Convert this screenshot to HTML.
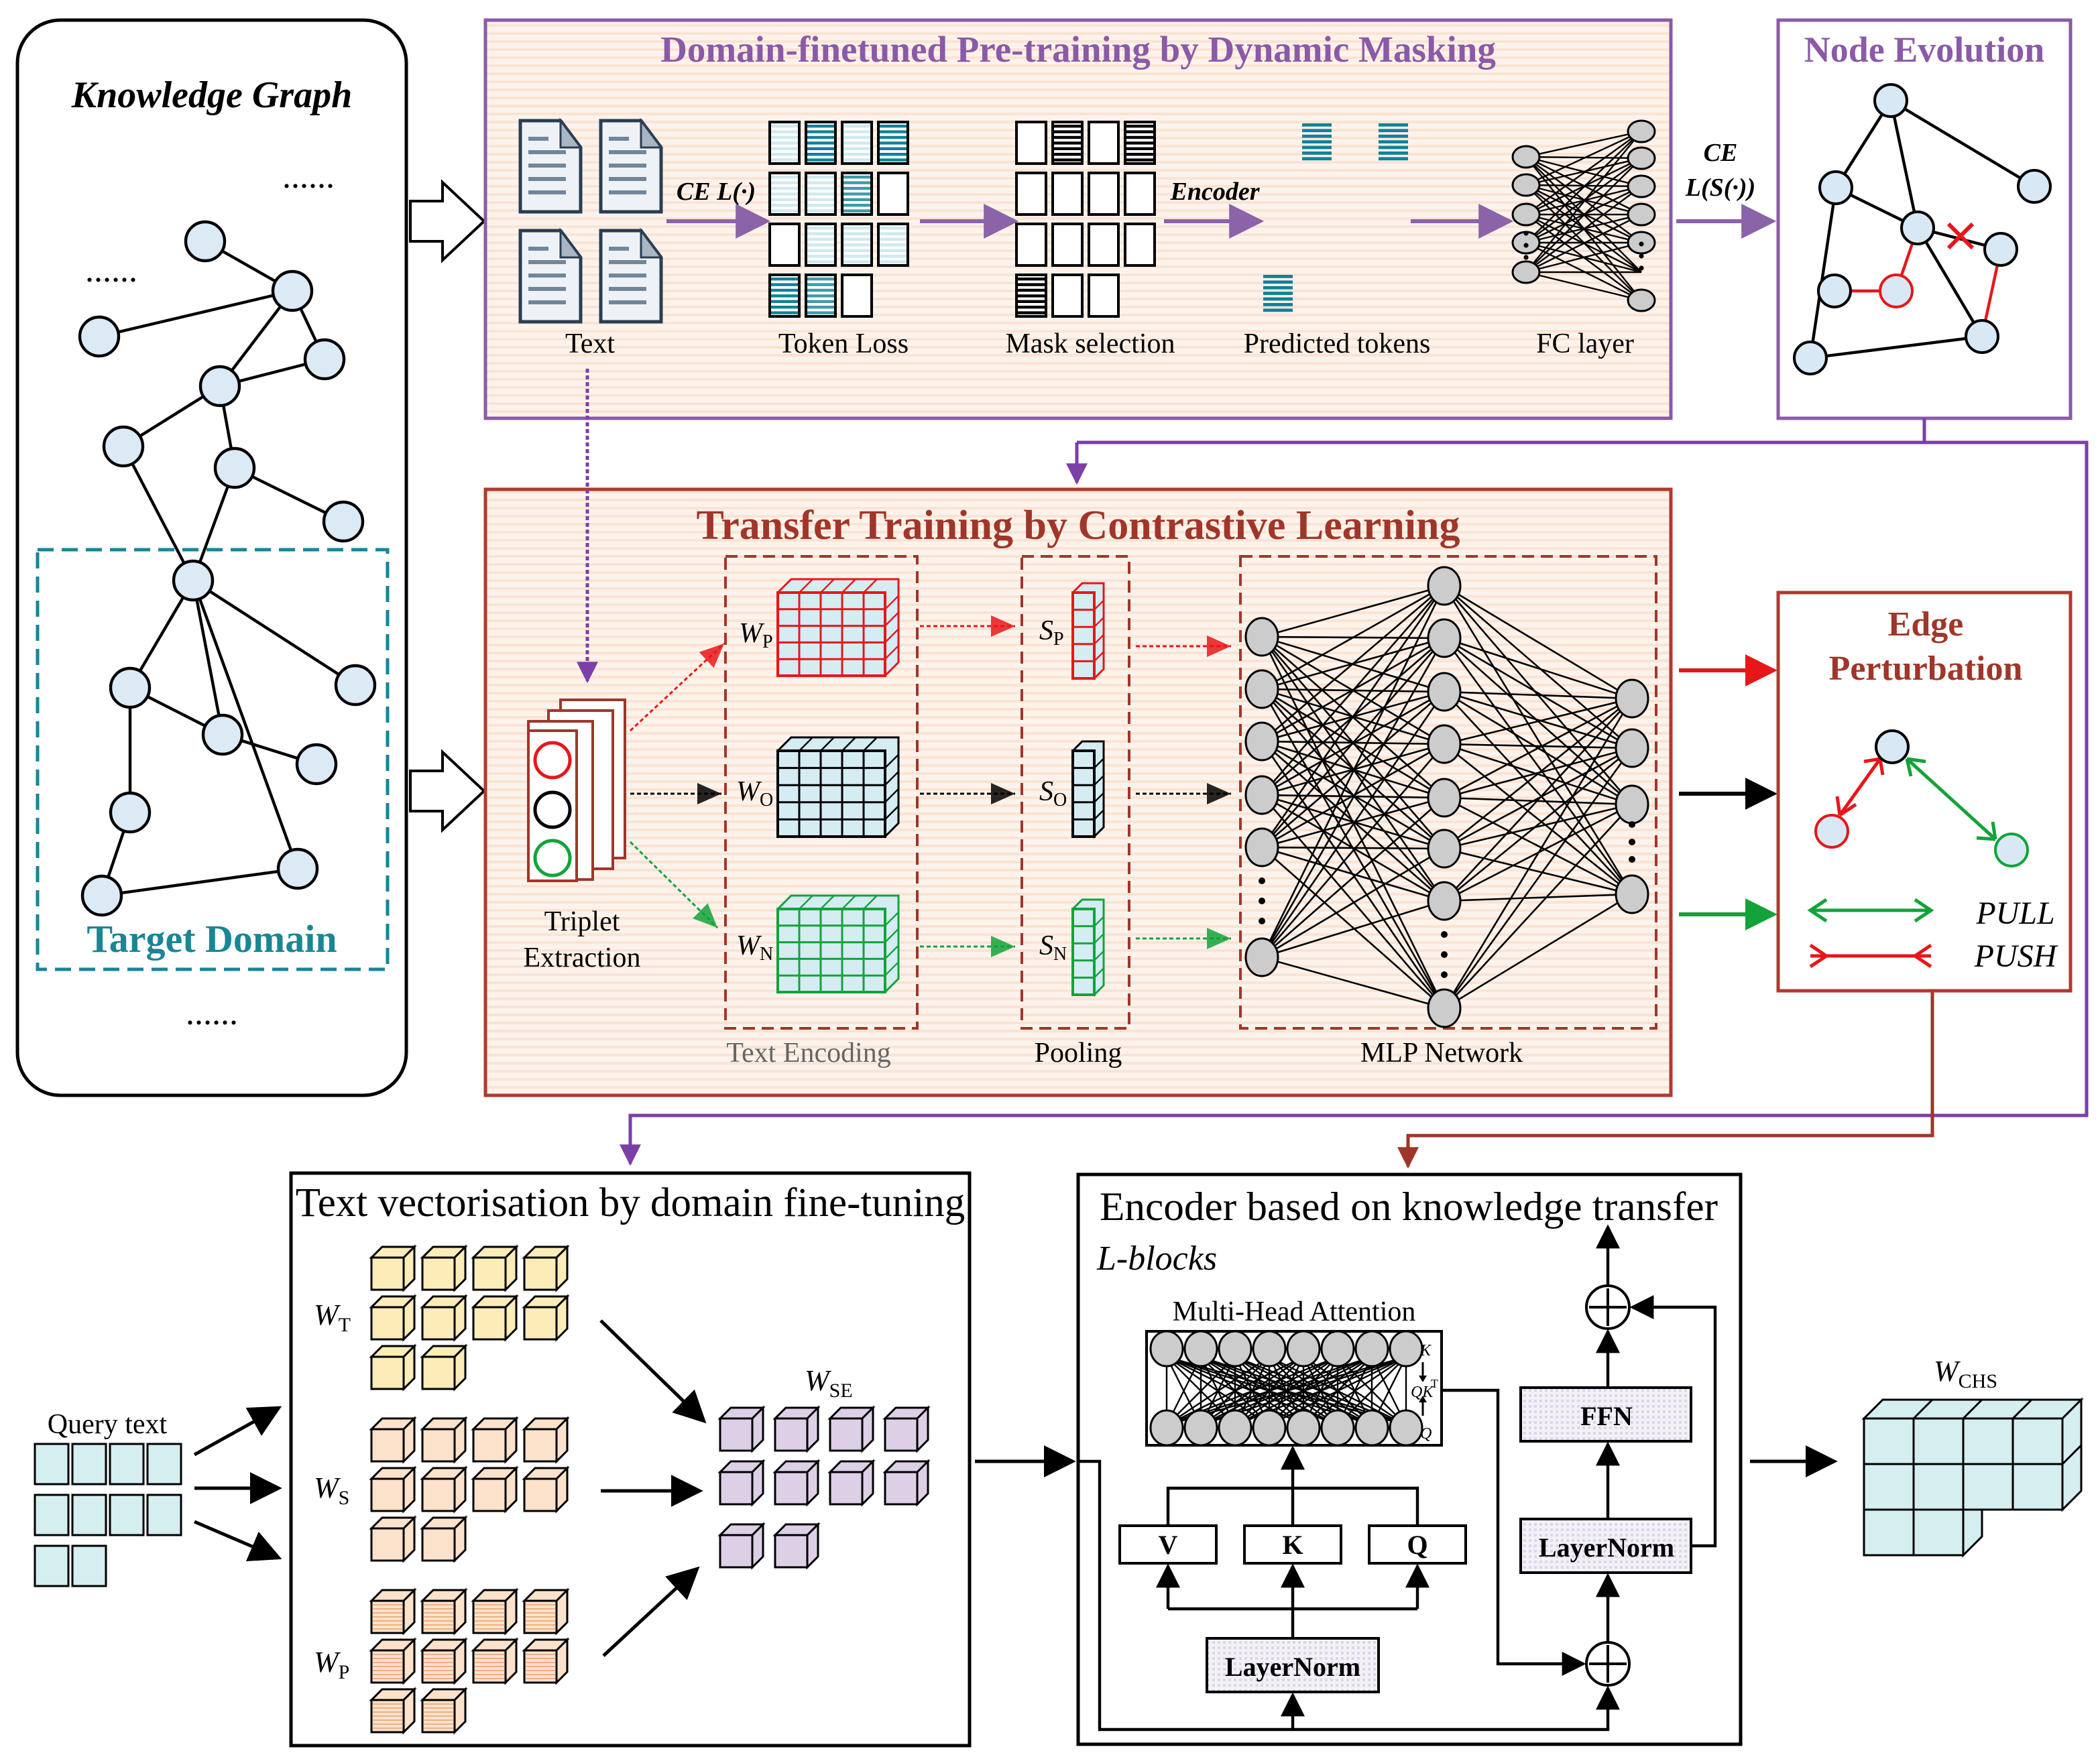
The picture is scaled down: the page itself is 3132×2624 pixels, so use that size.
<!DOCTYPE html>
<html><head><meta charset="utf-8"><style>
html,body{margin:0;padding:0;background:#fff}
svg{display:block}
text{font-family:"Liberation Serif",serif}
</style></head><body>
<svg id="s" xmlns="http://www.w3.org/2000/svg" width="3132" height="2624" viewBox="0 0 1566 1312">
<defs>
<marker id="ab" viewBox="0 0 10 10" refX="9" refY="5" markerWidth="7" markerHeight="7" orient="auto" markerUnits="userSpaceOnUse"><path d="M0,0 L10,5 L0,10 Z" fill="#000"/></marker>
<marker id="abig" viewBox="0 0 10 10" refX="9" refY="5" markerWidth="24" markerHeight="24" orient="auto" markerUnits="userSpaceOnUse"><path d="M0,0 L10,5 L0,10 Z" fill="#000"/></marker>
<marker id="ap" viewBox="0 0 10 10" refX="9" refY="5" markerWidth="16" markerHeight="16" orient="auto" markerUnits="userSpaceOnUse"><path d="M0,0 L10,5 L0,10 Z" fill="#7b3fa8"/></marker>
<marker id="apb" viewBox="0 0 10 10" refX="9" refY="5" markerWidth="26" markerHeight="26" orient="auto" markerUnits="userSpaceOnUse"><path d="M0,0 L10,5 L0,10 Z" fill="#8a63a8"/></marker>
<marker id="ar" viewBox="0 0 10 10" refX="9" refY="5" markerWidth="16" markerHeight="16" orient="auto" markerUnits="userSpaceOnUse"><path d="M0,0 L10,5 L0,10 Z" fill="#a0362a"/></marker>
<marker id="arb" viewBox="0 0 10 10" refX="9" refY="5" markerWidth="24" markerHeight="24" orient="auto" markerUnits="userSpaceOnUse"><path d="M0,0 L10,5 L0,10 Z" fill="#e8161a"/></marker>
<marker id="agb" viewBox="0 0 10 10" refX="9" refY="5" markerWidth="24" markerHeight="24" orient="auto" markerUnits="userSpaceOnUse"><path d="M0,0 L10,5 L0,10 Z" fill="#12a33a"/></marker>
<marker id="am" viewBox="0 0 10 10" refX="9" refY="5" markerWidth="18" markerHeight="18" orient="auto" markerUnits="userSpaceOnUse"><path d="M0,0 L10,5 L0,10 Z" fill="#000"/></marker>
<pattern id="peach" width="6" height="6" patternUnits="userSpaceOnUse"><rect width="6" height="6" fill="#fdf3ec"/><rect width="6" height="2" fill="#fbe4d4"/></pattern>
<pattern id="ln" width="4" height="4" patternUnits="userSpaceOnUse"><rect width="4" height="4" fill="#f3f1f7"/><rect width="2" height="2" fill="#dcd6e6"/></pattern>
</defs>

<!-- Knowledge graph -->
<rect x="13" y="15" width="290" height="802" rx="32" fill="#fff" stroke="#000" stroke-width="2.5"/>
<text x="158" y="80" font-size="28" font-weight="bold" font-style="italic" text-anchor="middle">Knowledge Graph</text>
<text x="230" y="140" font-size="26" text-anchor="middle">......</text>
<text x="83" y="210" font-size="26" text-anchor="middle">......</text>
<text x="158" y="764" font-size="26" text-anchor="middle">......</text>
<rect x="28" y="410" width="261" height="313" fill="none" stroke="#1a8595" stroke-width="2.5" stroke-dasharray="12,6"/>
<text x="158" y="710" font-size="29" font-weight="bold" fill="#1a8595" text-anchor="middle">Target Domain</text>
<g id="kg" stroke="#000" stroke-width="2.2"></g>

<!-- hollow arrows -->
<path d="M306,150 L330,150 L330,136 L361,165 L330,194 L330,180 L306,180 Z" fill="#fff" stroke="#000" stroke-width="2"/>
<path d="M306,575 L330,575 L330,561 L361,590 L330,619 L330,605 L306,605 Z" fill="#fff" stroke="#000" stroke-width="2"/>

<!-- Top box -->
<rect x="362" y="15" width="884" height="297" fill="url(#peach)" stroke="#8a5aa8" stroke-width="2.5"/>
<text x="804" y="46" font-size="27.5" font-weight="bold" fill="#8a5aa8" text-anchor="middle">Domain-finetuned Pre-training by Dynamic Masking</text>
<g id="top"></g>
<g font-size="21" text-anchor="middle">
<text x="440" y="263">Text</text><text x="629" y="263">Token Loss</text><text x="813" y="263">Mask selection</text><text x="997" y="263">Predicted tokens</text><text x="1182" y="263">FC layer</text>
</g>
<text x="534" y="149" font-size="19" font-style="italic" font-weight="bold" text-anchor="middle">CE L(·)</text>
<text x="906" y="149" font-size="19" font-style="italic" font-weight="bold" text-anchor="middle">Encoder</text>
<line x1="497" y1="165" x2="572" y2="165" stroke="#8a63a8" stroke-width="3" marker-end="url(#apb)"/>
<line x1="686" y1="165" x2="757" y2="165" stroke="#8a63a8" stroke-width="3" marker-end="url(#apb)"/>
<line x1="868" y1="165" x2="940" y2="165" stroke="#8a63a8" stroke-width="3" marker-end="url(#apb)"/>
<line x1="1052" y1="165" x2="1126" y2="165" stroke="#8a63a8" stroke-width="3" marker-end="url(#apb)"/>
<line x1="1250" y1="165" x2="1322" y2="165" stroke="#8a63a8" stroke-width="3" marker-end="url(#apb)"/>
<text x="1283" y="120" font-size="19" font-style="italic" font-weight="bold" text-anchor="middle">CE</text>
<text x="1283" y="146" font-size="19" font-style="italic" font-weight="bold" text-anchor="middle">L(S(·))</text>

<!-- Node Evolution -->
<rect x="1326" y="15" width="218" height="297" fill="#fff" stroke="#8a5aa8" stroke-width="2.5"/>
<text x="1435" y="46" font-size="27" font-weight="bold" fill="#8a5aa8" text-anchor="middle">Node Evolution</text>
<g id="ne"></g>

<!-- connectors -->
<g fill="none" stroke-width="2.5">
<path d="M1435,312 L1435,330 M803,330 L1556,330 L1556,832 L470,832 L470,868" stroke="#7b3fa8" marker-end="url(#ap)"/>
<path d="M803,330 L803,360" stroke="#7b3fa8" marker-end="url(#ap)"/>
<path d="M1441,740 L1441,847 L1050,847 L1050,870" stroke="#a0362a" marker-end="url(#ar)"/>
</g>

<!-- Middle box -->
<rect x="362" y="365" width="884" height="452" fill="url(#peach)" stroke="#b03a2e" stroke-width="2.5"/>
<path d="M438,275 L438,508" fill="none" stroke-width="2.5" stroke="#7b3fa8" stroke-dasharray="3,2" marker-end="url(#ap)"/>
<text x="804" y="402" font-size="31" font-weight="bold" fill="#a0362a" text-anchor="middle">Transfer Training by Contrastive Learning</text>
<g fill="none" stroke="#a0362a" stroke-width="2" stroke-dasharray="9,5">
<rect x="541" y="415" width="143" height="352"/><rect x="762" y="415" width="80" height="352"/><rect x="925" y="415" width="310" height="352"/>
</g>
<g id="mid"></g>
<g font-size="21" text-anchor="middle">
<text x="434" y="694">Triplet</text><text x="434" y="721">Extraction</text>
<text x="603" y="792" fill="#666">Text Encoding</text><text x="804" y="792">Pooling</text><text x="1075" y="792">MLP Network</text>
</g>
<g font-size="21" font-style="italic">
<text x="551" y="479">W<tspan font-size="14" font-style="normal" dy="4">P</tspan></text>
<text x="549" y="597">W<tspan font-size="14" font-style="normal" dy="4">O</tspan></text>
<text x="549" y="712">W<tspan font-size="14" font-style="normal" dy="4">N</tspan></text>
<text x="775" y="477">S<tspan font-size="14" font-style="normal" dy="4">P</tspan></text>
<text x="775" y="597">S<tspan font-size="14" font-style="normal" dy="4">O</tspan></text>
<text x="775" y="712">S<tspan font-size="14" font-style="normal" dy="4">N</tspan></text>
</g>
<line x1="1252" y1="500" x2="1323" y2="500" stroke="#e8161a" stroke-width="3" marker-end="url(#arb)"/>
<line x1="1252" y1="592" x2="1323" y2="592" stroke="#000" stroke-width="3" marker-end="url(#abig)"/>
<line x1="1252" y1="682" x2="1323" y2="682" stroke="#12a33a" stroke-width="3" marker-end="url(#agb)"/>

<!-- Edge perturbation -->
<rect x="1326" y="442" width="218" height="297" fill="#fff" stroke="#b03a2e" stroke-width="2.5"/>
<text x="1436" y="474" font-size="26" font-weight="bold" fill="#a0362a" text-anchor="middle">Edge</text>
<text x="1436" y="507" font-size="26" font-weight="bold" fill="#a0362a" text-anchor="middle">Perturbation</text>
<line x1="1402" y1="566" x2="1372" y2="608" stroke="#e8161a" stroke-width="2.5"/>
<path d="M1372,608 l-2,-14 M1372,608 l12,-8 M1402,566 l-12,2 M1402,566 l2,12" stroke="#e8161a" stroke-width="2.5" fill="none"/>
<line x1="1422" y1="566" x2="1488" y2="626" stroke="#12a33a" stroke-width="2.5"/>
<path d="M1422,566 l14,2 M1422,566 l3,13 M1488,626 l-14,-1 M1488,626 l-2,-13" stroke="#12a33a" stroke-width="2.5" fill="none"/>
<circle cx="1411" cy="557" r="12" fill="#d8e9f5" stroke="#000" stroke-width="2"/>
<circle cx="1366" cy="620" r="12" fill="#d8e9f5" stroke="#e8161a" stroke-width="2"/>
<circle cx="1500" cy="634" r="12" fill="#d8e9f5" stroke="#12a33a" stroke-width="2"/>
<line x1="1350" y1="679" x2="1440" y2="679" stroke="#12a33a" stroke-width="2.5"/>
<path d="M1362,671 l-12,8 l12,8 M1428,671 l12,8 l-12,8" stroke="#12a33a" stroke-width="2.5" fill="none"/>
<line x1="1350" y1="713" x2="1440" y2="713" stroke="#e8161a" stroke-width="2.5"/>
<path d="M1350,705 l12,8 l-12,8 M1440,705 l-12,8 l12,8" stroke="#e8161a" stroke-width="2.5" fill="none"/>
<text x="1503" y="689" font-size="24" font-style="italic" text-anchor="middle">PULL</text>
<text x="1503" y="721" font-size="24" font-style="italic" text-anchor="middle">PUSH</text>

<!-- Bottom left box -->
<rect x="217" y="875" width="506" height="427" fill="#fff" stroke="#000" stroke-width="2.5"/>
<text x="470" y="907" font-size="30.5" text-anchor="middle">Text vectorisation by domain fine-tuning</text>
<text x="80" y="1069" font-size="21" text-anchor="middle">Query text</text>
<g font-size="22" font-style="italic">
<text x="234" y="988">W<tspan font-size="15" font-style="normal" dy="5">T</tspan></text>
<text x="234" y="1117">W<tspan font-size="15" font-style="normal" dy="5">S</tspan></text>
<text x="234" y="1247">W<tspan font-size="15" font-style="normal" dy="5">P</tspan></text>
<text x="600" y="1037">W<tspan font-size="15" font-style="normal" dy="5">SE</tspan></text>
<text x="1442" y="1030">W<tspan font-size="15" font-style="normal" dy="5">CHS</tspan></text>
</g>
<g id="bot"></g>
<g stroke="#000" stroke-width="2.5" marker-end="url(#abig)">
<line x1="145" y1="1085" x2="208" y2="1050"/><line x1="145" y1="1110" x2="208" y2="1110"/><line x1="145" y1="1135" x2="208" y2="1162"/>
<line x1="448" y1="985" x2="525" y2="1060"/><line x1="448" y1="1112" x2="522" y2="1112"/><line x1="450" y1="1235" x2="520" y2="1170"/>
<line x1="727" y1="1090" x2="800" y2="1090"/><line x1="1305" y1="1090" x2="1368" y2="1090"/>
</g>

<!-- Encoder box -->
<rect x="804" y="876" width="494" height="425" fill="#fff" stroke="#000" stroke-width="2.5"/>
<text x="820" y="910" font-size="30" textLength="461" lengthAdjust="spacingAndGlyphs">Encoder based on knowledge transfer</text>
<text x="818" y="947" font-size="26" font-style="italic">L-blocks</text>
<text x="965" y="985" font-size="21" text-anchor="middle">Multi-Head Attention</text>
<rect x="855" y="993" width="220" height="85" fill="#fff" stroke="#000" stroke-width="2"/>
<g id="mha"></g>
<g font-size="12" font-style="italic"><text x="1059" y="1011">K</text><text x="1052" y="1042">QK</text><text x="1067" y="1035" font-size="9" font-style="normal">T</text><text x="1059" y="1073">Q</text></g>
<g fill="#fff" stroke="#000" stroke-width="2">
<rect x="835" y="1138" width="72" height="28"/><rect x="928" y="1138" width="72" height="28"/><rect x="1021" y="1138" width="72" height="28"/>
<rect x="900" y="1222" width="128" height="40" fill="url(#ln)"/>
<rect x="1134" y="1035" width="127" height="40" fill="url(#ln)"/>
<rect x="1134" y="1133" width="127" height="40" fill="url(#ln)"/>
<circle cx="1199" cy="975" r="16"/><circle cx="1199" cy="1241" r="16"/>
</g>
<path d="M1199,961 v28 M1185,975 h28 M1199,1227 v28 M1185,1241 h28" stroke="#000" stroke-width="2"/>
<g font-size="20" font-weight="bold" text-anchor="middle">
<text x="871" y="1159">V</text><text x="964" y="1159">K</text><text x="1057" y="1159">Q</text>
<text x="964" y="1250">LayerNorm</text><text x="1198" y="1063">FFN</text><text x="1198" y="1161">LayerNorm</text>
</g>
<g fill="none" stroke="#000" stroke-width="2.2">
<path d="M804,1090 L820,1090 L820,1290 L1199,1290 L1199,1259" marker-end="url(#am)"/>
<path d="M964,1290 L964,1264" marker-end="url(#am)"/>
<path d="M964,1222 L964,1168" marker-end="url(#am)"/>
<path d="M871,1200 L1057,1200 M871,1200 L871,1168" marker-end="url(#am)"/>
<path d="M1057,1200 L1057,1168" marker-end="url(#am)"/>
<path d="M871,1138 L871,1110 L1057,1110 L1057,1138"/>
<path d="M964,1138 L964,1080" marker-end="url(#am)"/>
<path d="M1075,1037 L1117,1037 L1117,1241 L1181,1241" marker-end="url(#am)"/>
<path d="M1199,1225 L1199,1175" marker-end="url(#am)"/>
<path d="M1199,1133 L1199,1077" marker-end="url(#am)"/>
<path d="M1199,1035 L1199,993" marker-end="url(#am)"/>
<path d="M1199,959 L1199,915" marker-end="url(#am)"/>
<path d="M1261,1153 L1279,1153 L1279,975 L1217,975" marker-end="url(#am)"/>
</g>
</svg>
<script>
var NS="http://www.w3.org/2000/svg";
function el(p,t,a){var e=document.createElementNS(NS,t);for(var k in a)e.setAttribute(k,a[k]);p.appendChild(e);return e;}
var G=function(id){return document.getElementById(id);};
(function(){var g=G('kg');var N=[[153,180],[218,217],[74,251],[242,268],[164,288],[92,333],[175,349],[256,389],[144,433],[97,513],[265,511],[166,548],[236,570],[97,606],[222,648],[76,668]];
var E=[[0,1],[1,2],[1,3],[1,4],[3,4],[4,5],[4,6],[6,7],[5,8],[6,8],[8,9],[8,11],[8,10],[8,14],[9,11],[11,12],[9,13],[13,15],[15,14]];
E.forEach(function(e){el(g,'line',{x1:N[e[0]][0],y1:N[e[0]][1],x2:N[e[1]][0],y2:N[e[1]][1]});});
N.forEach(function(n){el(g,'circle',{cx:n[0],cy:n[1],r:14.5,fill:'#dbeaf5'});});})();
(function(){var g=G('top');
function doc(x,y){el(g,'path',{d:'M'+x+','+y+' h30 l15,20 v48 h-45 z',fill:'#eef2f6',stroke:'#2a3d52','stroke-width':2.5});
el(g,'path',{d:'M'+(x+30)+','+y+' v20 h15 z',fill:'#a9b6c3',stroke:'#2a3d52','stroke-width':1.5});
for(var i=0;i<5;i++)el(g,'rect',{x:x+6,y:y+12+i*10,width:i==0?15:28,height:3,fill:'#71869a'});}
doc(388,90);doc(448,90);doc(388,172);doc(448,172);
function cell(x,y,type){el(g,'rect',{x:x,y:y,width:22,height:31,fill:'#fff',stroke:'#000','stroke-width':2});
if(type){for(var i=0;i<7;i++)el(g,'rect',{x:x+1,y:y+2+i*4.2,width:20,height:2.2,fill:type});}}
var X=[574,601,628,655],Y=[91,129,167,205];
var T=[['#cfe9ef','#0f8198','#cfe9ef','#0f8198'],['#cfe9ef','#cfe9ef','#3f9aa8',0],[0,'#cfe9ef','#cfe9ef','#cfe9ef'],['#0f8198','#3f9aa8',0]];
T.forEach(function(r,j){r.forEach(function(c,i){cell(X[i],Y[j],c);});});
var X2=[758,785,812,839];var M=[[0,'#000',0,'#000'],[0,0,0,0],[0,0,0,0],['#000',0,0]];
M.forEach(function(r,j){r.forEach(function(c,i){cell(X2[i],Y[j],c);});});
function pt(x,y){for(var i=0;i<7;i++)el(g,'rect',{x:x,y:y+i*4.2,width:22,height:2.4,fill:'#0f8198'});}
pt(971,92);pt(1028,92);pt(942,205);
var L=[117,138,160,181,203],R=[98,118,139,160,181,203,224];
L.forEach(function(a){R.forEach(function(b){el(g,'line',{x1:1138,y1:a,x2:1224,y2:b,stroke:'#000','stroke-width':1.2});});});
L.forEach(function(a){el(g,'ellipse',{cx:1138,cy:a,rx:10,ry:8,fill:'#ccc',stroke:'#000','stroke-width':1.5});});
R.forEach(function(a,i){if(i==5)return;el(g,'ellipse',{cx:1224,cy:a,rx:10,ry:8,fill:'#ccc',stroke:'#000','stroke-width':1.5});});
[172,181,190].forEach(function(y){el(g,'circle',{cx:1138,cy:y+2,r:1.8});el(g,'circle',{cx:1224,cy:y+10,r:1.8});});
})();
(function(){var g=G('ne');var N=[[1410,75],[1517,139],[1369,140],[1430,170],[1492,186],[1368,217],[1414,217],[1478,251],[1350,267]];
var B=[[0,2],[0,3],[0,1],[2,3],[2,8],[8,7],[7,3]];var R=[[3,6],[6,5],[4,7]];
B.forEach(function(e){el(g,'line',{x1:N[e[0]][0],y1:N[e[0]][1],x2:N[e[1]][0],y2:N[e[1]][1],stroke:'#000','stroke-width':2.2});});
el(g,'line',{x1:1430,y1:170,x2:1492,y2:186,stroke:'#000','stroke-width':2.2});
R.forEach(function(e){el(g,'line',{x1:N[e[0]][0],y1:N[e[0]][1],x2:N[e[1]][0],y2:N[e[1]][1],stroke:'#e8161a','stroke-width':2.2});});
el(g,'path',{d:'M1453,167 l18,18 M1471,167 l-18,18',stroke:'#e8161a','stroke-width':3});
N.forEach(function(n,i){el(g,'circle',{cx:n[0],cy:n[1],r:12,fill:'#d8e9f5',stroke:(i==6)?'#e8161a':'#000','stroke-width':2});});})();
(function(){var g=G('mid');
[[418,522],[409,530],[400,538]].forEach(function(p){el(g,'rect',{x:p[0]+(p[0]==400?-6:0),y:p[1],width:48,height:118,fill:'#fff',stroke:'#a0362a','stroke-width':2});});
el(g,'rect',{x:394,y:545,width:36,height:112,fill:'#fff',stroke:'#a0362a','stroke-width':2});
el(g,'circle',{cx:412,cy:567,r:13,fill:'#fff',stroke:'#e8161a','stroke-width':2.5});
el(g,'circle',{cx:412,cy:604,r:13,fill:'#fff',stroke:'#000','stroke-width':2.5});
el(g,'circle',{cx:412,cy:640,r:13,fill:'#fff',stroke:'#12a33a','stroke-width':2.5});
function grid(x,y,w,h,cols,rows,d,fill,st){
el(g,'path',{d:'M'+x+','+y+' l'+d+','+(-d)+' h'+w+' v'+h+' l'+(-d)+','+d+' z',fill:fill,stroke:st,'stroke-width':1.5});
el(g,'rect',{x:x,y:y,width:w,height:h,fill:fill,stroke:st,'stroke-width':2});
for(var i=1;i<cols;i++){el(g,'line',{x1:x+i*w/cols,y1:y,x2:x+i*w/cols,y2:y+h,stroke:st,'stroke-width':1.5});el(g,'line',{x1:x+i*w/cols,y1:y,x2:x+i*w/cols+d,y2:y-d,stroke:st,'stroke-width':1.2});}
for(var j=1;j<rows;j++){el(g,'line',{x1:x,y1:y+j*h/rows,x2:x+w,y2:y+j*h/rows,stroke:st,'stroke-width':1.5});el(g,'line',{x1:x+w,y1:y+j*h/rows,x2:x+w+d,y2:y+j*h/rows-d,stroke:st,'stroke-width':1.2});}
}
grid(580,442,80,62,5,5,10,'#d5ecf3','#e8161a');grid(580,560,80,64,5,5,10,'#d5ecf3','#000');grid(580,678,80,62,5,5,10,'#d5ecf3','#12a33a');
grid(800,442,16,64,1,5,7,'#d5ecf3','#e8161a');grid(800,560,16,64,1,5,7,'#d5ecf3','#000');grid(800,678,16,64,1,5,7,'#d5ecf3','#12a33a');
function da(x1,y1,x2,y2,c){el(g,'line',{x1:x1,y1:y1,x2:x2,y2:y2,stroke:c,'stroke-width':1.5,'stroke-dasharray':'3,2'});
var a=Math.atan2(y2-y1,x2-x1);
var p=[[x2,y2],[x2-18*Math.cos(a)+8*Math.sin(a),y2-18*Math.sin(a)-8*Math.cos(a)],[x2-18*Math.cos(a)-8*Math.sin(a),y2-18*Math.sin(a)+8*Math.cos(a)]];
el(g,'polygon',{points:p.map(function(q){return q.join(',')}).join(' '),fill:c,opacity:0.85});}
da(470,545,540,480,'#e8161a');da(470,592,538,592,'#000');da(470,628,535,692,'#12a33a');
da(686,467,757,467,'#e8161a');da(686,592,757,592,'#000');da(686,706,757,706,'#12a33a');
da(847,482,918,482,'#e8161a');da(847,592,918,592,'#000');da(847,700,918,700,'#12a33a');
var A=[475,514,553,593,632,714],B=[437,476,516,555,595,633,672,752],C=[521,558,600,667];
A.forEach(function(a){B.forEach(function(b){el(g,'line',{x1:941,y1:a,x2:1077,y2:b,stroke:'#000','stroke-width':1.3});});});
B.forEach(function(b){C.forEach(function(c){el(g,'line',{x1:1077,y1:b,x2:1217,y2:c,stroke:'#000','stroke-width':1.3});});});
A.forEach(function(a){el(g,'ellipse',{cx:941,cy:a,rx:12,ry:14,fill:'#ccc',stroke:'#000','stroke-width':1.5});});
B.forEach(function(a){el(g,'ellipse',{cx:1077,cy:a,rx:12,ry:14,fill:'#ccc',stroke:'#000','stroke-width':1.5});});
C.forEach(function(a){el(g,'ellipse',{cx:1217,cy:a,rx:12,ry:14,fill:'#ccc',stroke:'#000','stroke-width':1.5});});
[657,672,687].forEach(function(y){el(g,'circle',{cx:941,cy:y,r:2.5});el(g,'circle',{cx:1077,cy:y+40,r:2.5});});
[615,628,641].forEach(function(y){el(g,'circle',{cx:1217,cy:y,r:2.5});});
})();
(function(){var g=G('bot');
function cube(x,y,f,s){var d=8,w=24;
el(g,'path',{d:'M'+x+','+y+' l'+d+','+(-d)+' h'+w+' l'+(-d)+','+d+' z',fill:f,stroke:'#000','stroke-width':1.5});
el(g,'path',{d:'M'+(x+w)+','+y+' l'+d+','+(-d)+' v'+w+' l'+(-d)+','+d+' z',fill:f,stroke:'#000','stroke-width':1.5});
el(g,'rect',{x:x,y:y,width:w,height:w,fill:f,stroke:'#000','stroke-width':1.5});
if(s){for(var i=1;i<8;i++)el(g,'line',{x1:x+1,y1:y+i*3,x2:x+w-1,y2:y+i*3,stroke:s,'stroke-width':0.8});}}
function grp(x0,y0,dy,f,s){var X=[277,315,353,391];for(var r=0;r<3;r++)for(var c=0;c<(r==2?2:4);c++)cube(X[c],y0+r*dy,f,s);}
grp(0,938,37,'#fbecb8');grp(0,1066,37,'#fde2cb');grp(0,1194,37,'#fde2cb','#e99f6a');
var PX=[537,578,619,660];for(var r=0;r<2;r++)for(var c=0;c<4;c++)cube(PX[c],1058+r*40,'#ddd0e6');cube(537,1145,'#ddd0e6');cube(578,1145,'#ddd0e6');
var QX=[26,54,82,110],QY=[1077,1115,1153];for(var r=0;r<3;r++)for(var c=0;c<(r==2?2:4);c++)el(g,'rect',{x:QX[c],y:QY[r],width:25,height:30,fill:'#d5eef0',stroke:'#000','stroke-width':1.5});
var x=1390,y=1058,cw=37,ch=34,d=14,f='#d5eef0';
el(g,'path',{d:'M'+x+','+y+' l'+d+','+(-d)+' h'+(4*cw)+' l'+(-d)+','+d+' z',fill:f,stroke:'#000','stroke-width':1.5});
el(g,'path',{d:'M'+(x+4*cw)+','+y+' l'+d+','+(-d)+' v'+(2*ch)+' l'+(-d)+','+d+' z',fill:f,stroke:'#000','stroke-width':1.5});
el(g,'path',{d:'M'+(x+2*cw)+','+(y+2*ch)+' l'+d+','+(-d)+' v'+ch+' l'+(-d)+','+d+' z',fill:f,stroke:'#000','stroke-width':1.5});
for(var r=0;r<3;r++)for(var c=0;c<(r==2?2:4);c++)el(g,'rect',{x:x+c*cw,y:y+r*ch,width:cw,height:ch,fill:f,stroke:'#000','stroke-width':1.5});
for(var c=1;c<4;c++)el(g,'line',{x1:x+c*cw,y1:y,x2:x+c*cw+d,y2:y-d,stroke:'#000','stroke-width':1.5});
el(g,'line',{x1:x+4*cw,y1:y+ch,x2:x+4*cw+d,y2:y+ch-d,stroke:'#000','stroke-width':1.5});
var m=G('mha');var xs=[];for(var i=0;i<8;i++)xs.push(870+i*25.5);
xs.forEach(function(a){xs.forEach(function(b){el(m,'line',{x1:a,y1:1012,x2:b,y2:1063,stroke:'#000','stroke-width':1.2});});});
xs.forEach(function(a){el(m,'ellipse',{cx:a,cy:1006,rx:12,ry:13,fill:'#ccc',stroke:'#000','stroke-width':1.5});el(m,'ellipse',{cx:a,cy:1065,rx:12,ry:13,fill:'#ccc',stroke:'#000','stroke-width':1.5});});
el(m,'path',{d:'M1061,1016 v12 M1061,1056 v-12',stroke:'#000','stroke-width':1.5});
el(m,'path',{d:'M1058,1026 l3,5 l3,-5 z M1058,1046 l3,-5 l3,5 z',fill:'#000'});
})();
</script>
</body></html>
